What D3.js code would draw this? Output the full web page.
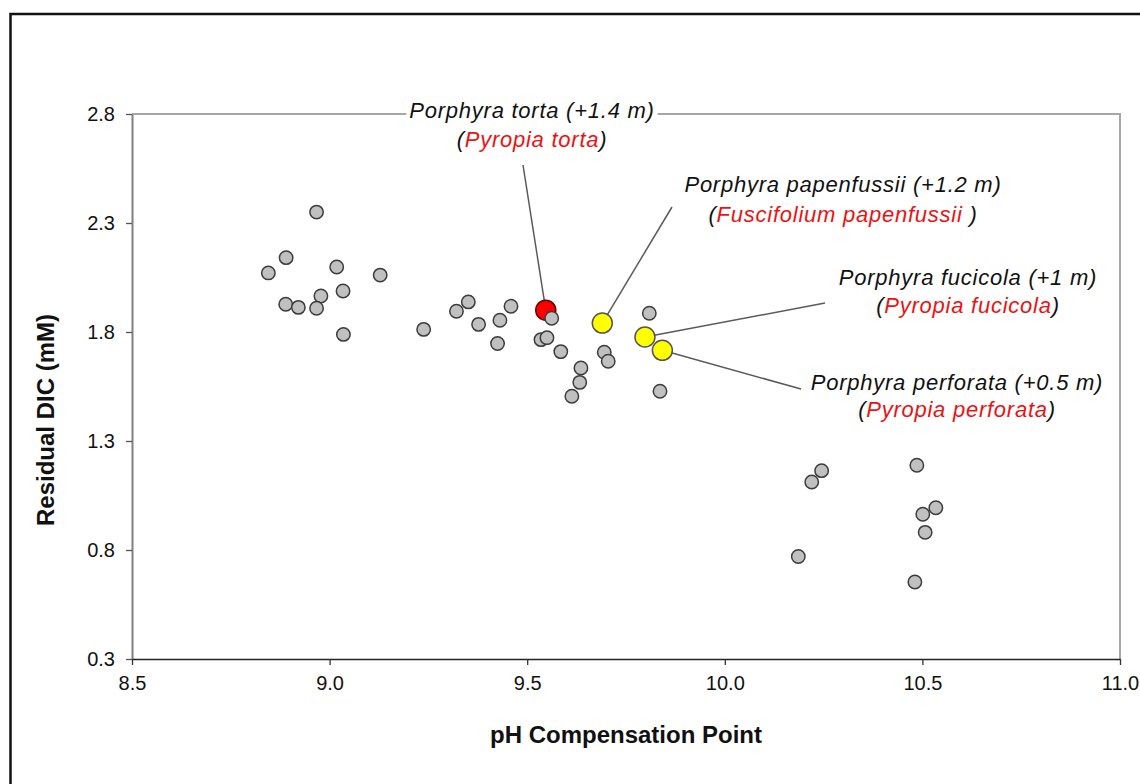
<!DOCTYPE html>
<html>
<head>
<meta charset="utf-8">
<script src="https://cdn.jsdelivr.net/npm/d3@7"></script>
<style>
  html, body { margin: 0; padding: 0; background: #fff; }
  svg { display: block; }
</style>
</head>
<body>
<svg id="chart" width="1140" height="784"></svg>
<script>
// ---------------- data ----------------
const xTicks = [8.5, 9.0, 9.5, 10.0, 10.5, 11.0];
const yTicks = [0.3, 0.8, 1.3, 1.8, 2.3, 2.8];

const grayPH  = [8.967, 8.890, 8.845, 9.018, 9.034, 8.978, 8.889, 8.921, 8.967, 9.035,
                 9.128, 9.238, 9.321, 9.351, 9.377, 9.431, 9.459, 9.425, 9.562, 9.535,
                 9.550, 9.585, 9.636, 9.633, 9.613, 9.695, 9.705, 9.809, 9.836,
                 10.245, 10.220, 10.486, 10.534, 10.501, 10.507, 10.186, 10.481];
const grayDIC = [2.350, 2.141, 2.071, 2.098, 1.988, 1.965, 1.927, 1.913, 1.909, 1.789,
                 2.061, 1.812, 1.895, 1.938, 1.835, 1.854, 1.918, 1.747, 1.863, 1.765,
                 1.774, 1.710, 1.635, 1.569, 1.505, 1.707, 1.666, 1.886, 1.528,
                 1.164, 1.112, 1.189, 0.994, 0.964, 0.881, 0.770, 0.653];

const hiOldName = ["Porphyra torta (+1.4 m)", "Porphyra papenfussii (+1.2 m)",
                   "Porphyra fucicola (+1 m)", "Porphyra perforata (+0.5 m)"];
const hiNewName = ["Pyropia torta", "Fuscifolium papenfussii ", "Pyropia fucicola", "Pyropia perforata"];
const hiPH      = [9.547, 9.690, 9.798, 9.842];
const hiDIC     = [1.900, 1.841, 1.777, 1.716];
const hiColor   = ["#ff0000", "#ffff00", "#ffff00", "#ffff00"];

const xTitle = "pH Compensation Point";
const yTitle = "Residual DIC (mM)";

// ---------------- layout ----------------
const W = 1140, H = 784;
const plot = { left: 132, right: 1120, top: 114, bottom: 659 };
const FONT = "Arial, 'Liberation Sans', Helvetica, sans-serif";

// label layout (pixel anchors for each annotation): centre x, baseline y of line 1/2, leader start
const labelLayout = [
  { cx: 532, y1: 118, y2: 147, lx: 523, ly: 165, bg: true },
  { cx: 843, y1: 192, y2: 222, lx: 672, ly: 207, bg: false },
  { cx: 968, y1: 285, y2: 313, lx: 825, ly: 303, bg: false },
  { cx: 957, y1: 390, y2: 417, lx: 801, ly: 389, bg: false }
];

const svg = d3.select("#chart");

// outer frame
svg.append("rect")
  .attr("x", 10.5).attr("y", 14)
  .attr("width", W + 20).attr("height", H + 20)
  .attr("fill", "#fff").attr("stroke", "#111").attr("stroke-width", 2.5);

const x = d3.scaleLinear().domain([8.5, 11.0]).range([plot.left, plot.right]);
const y = d3.scaleLinear().domain([0.3, 2.8]).range([plot.bottom, plot.top]);

// top & right plot border
svg.append("path")
  .attr("d", `M${plot.left},${plot.top}H${plot.right}V${plot.bottom}`)
  .attr("fill", "none").attr("stroke", "#a6a6a6").attr("stroke-width", 2);

// y axis
const yAxis = svg.append("g")
  .attr("transform", `translate(${plot.left},0)`)
  .call(d3.axisLeft(y).tickValues(yTicks).tickFormat(d3.format(".1f"))
        .tickSize(6).tickSizeOuter(0).tickPadding(11));
yAxis.select(".domain").attr("stroke", "#808080").attr("stroke-width", 2);
yAxis.selectAll(".tick line").attr("stroke", "#555").attr("stroke-width", 1.3);
yAxis.selectAll(".tick text").attr("font-family", FONT).attr("font-size", 20).attr("fill", "#111");

// x axis
const xAxis = svg.append("g")
  .attr("transform", `translate(0,${plot.bottom})`)
  .call(d3.axisBottom(x).tickValues(xTicks).tickFormat(d3.format(".1f"))
        .tickSize(6).tickSizeOuter(0).tickPadding(11));
xAxis.select(".domain").attr("stroke", "#222").attr("stroke-width", 1.6);
xAxis.selectAll(".tick line").attr("stroke", "#333").attr("stroke-width", 1.3);
xAxis.selectAll(".tick text").attr("font-family", FONT).attr("font-size", 20).attr("fill", "#111");

// axis titles
svg.append("text")
  .attr("x", (plot.left + plot.right) / 2).attr("y", 743)
  .attr("text-anchor", "middle")
  .attr("font-family", FONT).attr("font-weight", "bold").attr("font-size", 24).attr("fill", "#111")
  .text(xTitle);
svg.append("text")
  .attr("transform", `translate(54,420) rotate(-90)`)
  .attr("text-anchor", "middle")
  .attr("font-family", FONT).attr("font-weight", "bold").attr("font-size", 24).attr("fill", "#111")
  .text(yTitle);

// highlighted points data
const hi = hiPH.map((d, i) => ({ ph: d, dic: hiDIC[i], color: hiColor[i],
  oldName: hiOldName[i], newName: hiNewName[i], lay: labelLayout[i] }));

// leader lines
svg.append("g").selectAll("line").data(hi).join("line")
  .attr("x1", d => d.lay.lx).attr("y1", d => d.lay.ly)
  .attr("x2", d => x(d.ph)).attr("y2", d => y(d.dic))
  .attr("stroke", "#5a5a5a").attr("stroke-width", 1.5);

// labels
const labels = svg.append("g").selectAll("g").data(hi).join("g");
labels.each(function(d) {
  const g = d3.select(this);
  const t1 = g.append("text")
    .attr("x", d.lay.cx).attr("y", d.lay.y1)
    .attr("text-anchor", "middle")
    .attr("font-family", FONT).attr("font-style", "italic").attr("font-size", 22)
    .attr("letter-spacing", "0.75px").attr("fill", "#111")
    .text(d.oldName);
  const t2 = g.append("text")
    .attr("x", d.lay.cx).attr("y", d.lay.y2)
    .attr("text-anchor", "middle")
    .attr("font-family", FONT).attr("font-style", "italic").attr("font-size", 22)
    .attr("letter-spacing", "0.75px").attr("fill", "#111");
  t2.append("tspan").text("(");
  t2.append("tspan").attr("fill", "#ee1111").text(d.newName);
  t2.append("tspan").text(")");
  if (d.lay.bg) {
    const b = t1.node().getBBox();
    g.insert("rect", "text")
      .attr("x", b.x - 3).attr("y", b.y).attr("width", b.width + 6).attr("height", b.height)
      .attr("fill", "#fff");
  }
});

// highlighted markers
svg.append("g").selectAll("circle").data(hi).join("circle")
  .attr("cx", d => x(d.ph)).attr("cy", d => y(d.dic)).attr("r", 10)
  .attr("fill", d => d.color)
  .attr("stroke", d => d.color === "#ff0000" ? "#6b0000" : "#555")
  .attr("stroke-width", 1.5);

// gray markers
const gray = grayPH.map((d, i) => ({ ph: d, dic: grayDIC[i] }));
svg.append("g").selectAll("circle").data(gray).join("circle")
  .attr("cx", d => x(d.ph)).attr("cy", d => y(d.dic)).attr("r", 6.7)
  .attr("fill", "#c0c0c0").attr("stroke", "#3c3c3c").attr("stroke-width", 1.5);
</script>
</body>
</html>
